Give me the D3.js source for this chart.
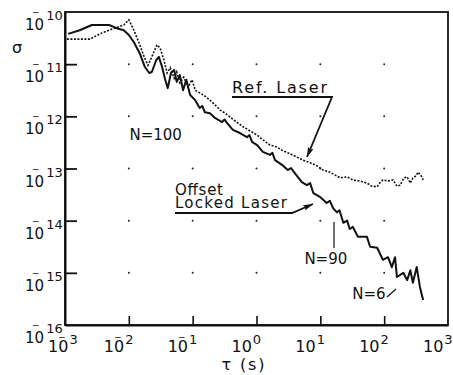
<!DOCTYPE html>
<html>
<head>
<meta charset="utf-8">
<script src="https://cdnjs.cloudflare.com/ajax/libs/d3/7.8.5/d3.min.js"></script>
<style>
  body { margin: 0; background: #fff; }
  text { font-family: "DejaVu Sans", sans-serif; fill: #111; }
</style>
</head>
<body>
<svg id="chart" width="453" height="375"></svg>
<script>
// decade exponents on each axis
const xExps = [-3, -2, -1, 0, 1, 2, 3];
const yExps = [-10, -11, -12, -13, -14, -15, -16];

// [log10 tau (s), log10 sigma]
const offsetLocked = [
  [-2.95,-10.42],[-2.77,-10.35],[-2.58,-10.25],[-2.31,-10.25],[-2.19,-10.31],[-2.08,-10.35],
  [-2.00,-10.44],[-1.92,-10.58],[-1.83,-10.79],[-1.75,-11.05],[-1.68,-11.17],[-1.64,-11.15],
  [-1.57,-10.92],[-1.53,-10.86],[-1.48,-11.05],[-1.43,-11.30],[-1.39,-11.46],[-1.34,-11.17],
  [-1.29,-11.11],[-1.25,-11.34],[-1.20,-11.21],[-1.15,-11.50],[-1.10,-11.30],[-1.04,-11.59],
  [-0.96,-11.69],[-0.89,-11.84],[-0.85,-11.80],[-0.81,-11.92],[-0.73,-11.94],[-0.65,-12.03],
  [-0.54,-12.11],[-0.50,-12.06],[-0.46,-12.13],[-0.37,-12.26],[-0.26,-12.32],[-0.15,-12.40],
  [-0.11,-12.36],[-0.07,-12.49],[0.01,-12.55],[0.10,-12.68],[0.21,-12.74],[0.25,-12.70],
  [0.29,-12.84],[0.40,-12.93],[0.49,-13.03],[0.54,-12.99],[0.60,-13.09],[0.71,-13.26],
  [0.79,-13.32],[0.84,-13.28],[0.89,-13.47],[1.00,-13.55],[1.10,-13.66],[1.15,-13.62],
  [1.20,-13.76],[1.26,-13.84],[1.30,-13.80],[1.36,-14.04],[1.42,-14.00],[1.46,-14.16],
  [1.51,-14.12],[1.59,-14.31],[1.73,-14.31],[1.78,-14.50],[1.89,-14.52],[1.98,-14.75],
  [2.06,-14.70],[2.12,-14.89],[2.17,-14.70],[2.20,-15.08],[2.30,-15.00],[2.36,-15.14],
  [2.41,-14.95],[2.45,-15.19],[2.51,-14.89],[2.56,-15.27],[2.61,-15.52]
];

const refLaser = [
  [-2.97,-10.52],[-2.61,-10.52],[-2.42,-10.40],[-2.22,-10.31],[-2.08,-10.25],[-2.00,-10.15],
  [-1.92,-10.35],[-1.84,-10.59],[-1.76,-10.86],[-1.70,-11.02],[-1.64,-10.86],[-1.56,-10.63],
  [-1.51,-10.69],[-1.45,-10.92],[-1.40,-11.17],[-1.35,-11.07],[-1.29,-11.27],[-1.25,-11.15],
  [-1.20,-11.36],[-1.14,-11.25],[-1.07,-11.44],[-1.01,-11.30],[-0.96,-11.50],[-0.89,-11.55],
  [-0.81,-11.61],[-0.73,-11.69],[-0.65,-11.78],[-0.57,-11.88],[-0.49,-11.94],[-0.42,-12.01],
  [-0.31,-12.11],[-0.21,-12.20],[-0.10,-12.28],[0.01,-12.36],[0.10,-12.45],[0.21,-12.55],
  [0.32,-12.59],[0.40,-12.65],[0.53,-12.72],[0.63,-12.78],[0.73,-12.84],[0.84,-12.89],
  [0.95,-12.95],[1.04,-13.03],[1.15,-13.07],[1.31,-13.18],[1.42,-13.16],[1.51,-13.22],
  [1.62,-13.24],[1.73,-13.28],[1.81,-13.34],[1.89,-13.35],[1.93,-13.28],[1.98,-13.22],
  [2.06,-13.24],[2.14,-13.22],[2.20,-13.34],[2.25,-13.32],[2.31,-13.18],[2.36,-13.16],
  [2.41,-13.28],[2.45,-13.18],[2.50,-13.14],[2.53,-13.07],[2.58,-13.14],[2.61,-13.22]
];

// N labels: [log10 tau, log10 sigma, text]
const nLabels = [
  [-1.99, -12.45, "N=100"],
  [0.75, -14.83, "N=90"],
  [1.50, -15.50, "N=6"]
];

const svg = d3.select("#chart");
const mLeft = 65, mRight = 448, mTop = 12, mBottom = 325;

const x = d3.scaleLog().domain([1e-3, 1e3]).range([mLeft, mRight]);
const y = d3.scaleLog().domain([1e-16, 1e-10]).range([mBottom, mTop]);
const px = d => x(Math.pow(10, d[0]));
const py = d => y(Math.pow(10, d[1]));

// grid dots at interior decades
const gx = xExps.slice(1, -1), gy = yExps.slice(1, -1);
svg.append("g").selectAll("circle")
  .data(d3.cross(gx, gy))
  .join("circle")
  .attr("cx", d => x(Math.pow(10, d[0])))
  .attr("cy", d => y(Math.pow(10, d[1])))
  .attr("r", 1)
  .attr("fill", "#222");

// frame
svg.append("rect")
  .attr("x", mLeft).attr("y", mTop)
  .attr("width", mRight - mLeft).attr("height", mBottom - mTop)
  .attr("fill", "none").attr("stroke", "#111").attr("stroke-width", 1.8);

// axes with inward ticks
const yAxis = d3.axisLeft(y)
  .tickValues(gy.map(e => Math.pow(10, e)))
  .tickSize(-12).tickSizeOuter(0).tickFormat("");
svg.append("g").attr("transform", `translate(${mLeft},0)`).call(yAxis)
  .call(g => g.selectAll("line").attr("stroke", "#111").attr("stroke-width", 1.8))
  .call(g => g.select(".domain").attr("stroke", "#111").attr("stroke-width", 2));

const xAxis = d3.axisBottom(x)
  .tickValues(gx.map(e => Math.pow(10, e)))
  .tickSize(-9).tickSizeOuter(0).tickFormat("");
svg.append("g").attr("transform", `translate(0,${mBottom})`).call(xAxis)
  .call(g => g.selectAll("line").attr("stroke", "#111").attr("stroke-width", 1.6))
  .call(g => g.select(".domain").attr("stroke", "#111").attr("stroke-width", 2));

// y tick labels: "10", minus sign set over the 0, exponent raised
const yl = svg.append("g").selectAll("text").data(yExps).join("text")
  .attr("x", 25).attr("y", e => y(Math.pow(10, e)) + 18).attr("font-size", 15);
yl.append("tspan").text("10");
yl.append("tspan").attr("dx", -12).attr("dy", -15)
  .attr("font-size", 9).text("\u2212");
yl.append("tspan").attr("dx", 6.5).attr("dy", 5)
  .attr("font-size", 13).text(e => Math.abs(e));

// x tick labels (first one nudged right, clear of the corner label)
const xl = svg.append("g").selectAll("text").data(xExps).join("text")
  .attr("x", (e, i) => x(Math.pow(10, e)) - (i === 0 ? 17 : 25))
  .attr("y", 352).attr("font-size", 16);
xl.append("tspan").text("10");
xl.filter(e => e < 0).append("tspan").attr("dx", -10).attr("dy", -12)
  .attr("font-size", 9).text("\u2212");
xl.append("tspan")
  .attr("dx", e => e < 0 ? 3.5 : 1).attr("dy", e => e < 0 ? 4 : -8)
  .attr("font-size", 13).text(e => Math.abs(e));

// axis titles
svg.append("text").attr("x", 243).attr("y", 370).attr("text-anchor", "middle")
  .attr("font-size", 16).attr("textLength", 43).text("\u03c4 (s)");
svg.append("text").attr("x", 17).attr("y", 53).attr("text-anchor", "middle")
  .attr("font-size", 16).text("\u03c3");

// curves
const line = d3.line().x(px).y(py);
svg.append("path").datum(refLaser).attr("d", line)
  .attr("fill", "none").attr("stroke", "#111").attr("stroke-width", 1.6)
  .attr("stroke-dasharray", "2,1.5");
svg.append("path").datum(offsetLocked).attr("d", line)
  .attr("fill", "none").attr("stroke", "#111").attr("stroke-width", 2)
  .attr("stroke-linejoin", "round");

// arrowhead
svg.append("defs").append("marker")
  .attr("id", "arr").attr("viewBox", "0 0 10 6")
  .attr("refX", 10).attr("refY", 3)
  .attr("markerWidth", 10).attr("markerHeight", 6)
  .attr("markerUnits", "userSpaceOnUse").attr("orient", "auto")
  .append("path").attr("d", "M0,0 L10,3 L0,6 L2,3 Z").attr("fill", "#111");

// annotations
svg.append("text").attr("x", 232).attr("y", 93).attr("font-size", 16)
  .attr("textLength", 95).attr("lengthAdjust", "spacing").text("Ref. Laser");
svg.append("path").attr("d", "M232,97 H332 L307,157")
  .attr("fill", "none").attr("stroke", "#111").attr("stroke-width", 1.8)
  .attr("marker-end", "url(#arr)");

const lock = svg.append("text").attr("font-size", 15);
lock.append("tspan").attr("x", 175).attr("y", 195)
  .attr("textLength", 48).attr("lengthAdjust", "spacing").text("Offset");
lock.append("tspan").attr("x", 175).attr("y", 208)
  .attr("textLength", 112).attr("lengthAdjust", "spacing").text("Locked Laser");
svg.append("path").attr("d", "M175,213 H292 L313,204")
  .attr("fill", "none").attr("stroke", "#111").attr("stroke-width", 1.8)
  .attr("marker-end", "url(#arr)");

svg.append("g").selectAll("text").data(nLabels).join("text")
  .attr("x", d => x(Math.pow(10, d[0])))
  .attr("y", d => y(Math.pow(10, d[1])))
  .attr("font-size", 15).text(d => d[2]);

// leader lines for N=90 and N=6
svg.append("path").attr("d", "M334,222 V248 M387,297 L396,289")
  .attr("fill", "none").attr("stroke", "#111").attr("stroke-width", 1.2);
</script>
</body>
</html>
